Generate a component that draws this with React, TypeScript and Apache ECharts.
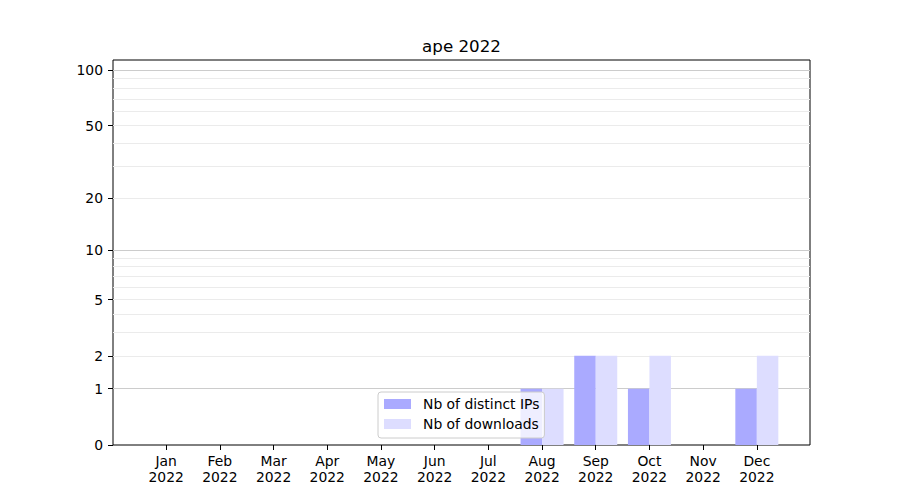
import React, { useEffect, useRef } from "react";
import * as echarts from "echarts";

const months = ["Jan", "Feb", "Mar", "Apr", "May", "Jun", "Jul", "Aug", "Sep", "Oct", "Nov", "Dec"];
const yearLabel = "2022";
const distinctIPs = [0, 0, 0, 0, 0, 0, 0, 1, 2, 1, 0, 1];
const downloads = [0, 0, 0, 0, 0, 0, 0, 1, 2, 2, 0, 2];
const labeledTicks = [0, 1, 2, 5, 10, 20, 50, 100];
const majorGrid = [1, 10, 100];
const minorGrid = [2, 3, 4, 5, 6, 7, 8, 9, 20, 30, 40, 50, 60, 70, 80, 90];
const yTopValue = 113.6;
const titleText = "ape 2022";

const t = (v: number) => Math.log10(1 + v);
const inv = (v: number) => Math.round(Math.pow(10, v) - 1);

const FONT = "DejaVu Sans";

export default function App() {
  const ref = useRef<HTMLDivElement>(null);
  useEffect(() => {
    if (!ref.current) return;
    const chart = echarts.init(ref.current, null, { renderer: "svg" });
    const xIdx = months.map((_, i) => i);
    const yMax = t(yTopValue);
    const hiddenY = (vals: number[], color: string) => ({
      type: "value",
      min: 0,
      max: yMax,
      position: "left",
      axisLine: { show: false, onZero: false },
      axisTick: { show: false, customValues: vals.map(t) },
      axisLabel: { show: false, customValues: vals.map(t) },
      splitLine: { show: true, lineStyle: { color, width: 1 } },
    });
    chart.setOption({
      animation: false,
      backgroundColor: "#fff",
      textStyle: { fontFamily: FONT },
      graphic: [
        {
          type: "text",
          x: 461.5,
          y: 46,
          style: {
            text: titleText,
            fontSize: 16.7,
            fontFamily: FONT,
            fill: "#000",
            align: "center",
            verticalAlign: "middle",
          },
        },
      ],
      grid: {
        left: 113,
        right: 90,
        top: 60,
        bottom: 55,
        show: true,
        borderColor: "#000",
        borderWidth: 1,
        backgroundColor: "transparent",
      },
      legend: {
        orient: "vertical",
        left: 378,
        top: 392,
        padding: [4, 5, 6, 6],
        itemWidth: 27,
        itemHeight: 10,
        itemGap: 4,
        icon: "rect",
        backgroundColor: "rgba(255,255,255,0.8)",
        borderColor: "#cccccc",
        borderWidth: 1,
        borderRadius: 3,
        textStyle: {
          fontFamily: FONT,
          fontSize: 13.9,
          color: "#000",
          lineHeight: 16,
          padding: [0, 0, 0, 7],
        },
        data: ["Nb of distinct IPs", "Nb of downloads"],
      },
      xAxis: {
        type: "value",
        min: -0.99,
        max: 11.99,
        splitLine: { show: false },
        axisLine: { show: false, onZero: false },
        axisTick: {
          show: true,
          customValues: xIdx,
          length: 5,
          lineStyle: { color: "#000", width: 1 },
        },
        axisLabel: {
          customValues: xIdx,
          margin: 8,
          fontFamily: FONT,
          fontSize: 13.9,
          lineHeight: 16,
          color: "#000",
          align: "center",
          formatter: (v: number) => `${months[Math.round(v)]}\n${yearLabel}`,
        },
      },
      yAxis: [
        {
          type: "value",
          min: 0,
          max: yMax,
          position: "left",
          axisLine: { show: false, onZero: false },
          splitLine: { show: false },
          axisTick: {
            show: true,
            customValues: labeledTicks.map(t),
            length: 5,
            lineStyle: { color: "#000", width: 1 },
          },
          axisLabel: {
            customValues: labeledTicks.map(t),
            margin: 10,
            fontFamily: FONT,
            fontSize: 13.9,
            color: "#000",
            formatter: (v: number) => String(inv(v)),
          },
        },
        hiddenY(minorGrid, "#ebebeb"),
        hiddenY(majorGrid, "#cccccc"),
      ],
      series: [
        {
          name: "Nb of distinct IPs",
          type: "bar",
          barWidth: 21.5,
          barGap: "0%",
          itemStyle: { color: "#aaaaff" },
          data: distinctIPs.map((v, i) => [i, t(v)]),
        },
        {
          name: "Nb of downloads",
          type: "bar",
          barWidth: 21.5,
          barGap: "0%",
          itemStyle: { color: "#ddddff" },
          data: downloads.map((v, i) => [i, t(v)]),
        },
      ],
    });
    return () => chart.dispose();
  }, []);
  return (
    <div
      ref={ref}
      style={{ position: "absolute", left: 0, top: 0, width: 900, height: 500 }}
    />
  );
}
